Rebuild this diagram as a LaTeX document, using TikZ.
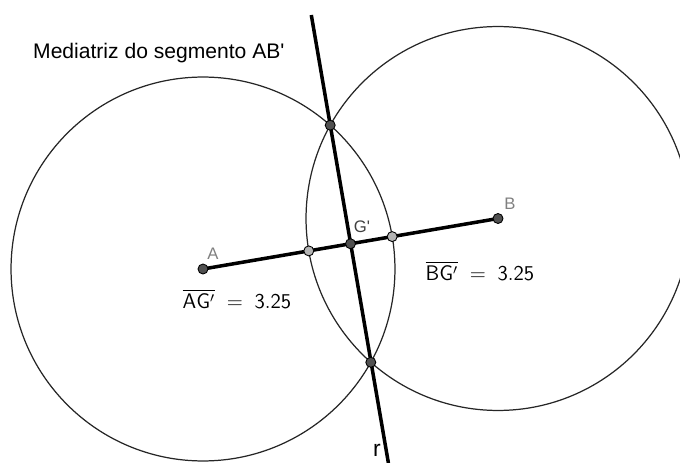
\documentclass[tikz,border=0pt]{standalone}
\usepackage{fontspec}
\usepackage{amsmath}
\usepackage{tikz}
\newfontfamily\geofont[Ligatures=TeXOff]{Liberation Sans}
\definecolor{ptdark}{HTML}{505050}
\definecolor{ptlight}{HTML}{B4B4B4}
\definecolor{lblgray}{HTML}{808080}

\begin{document}
\begin{tikzpicture}[x=0.02cm, y=-0.02cm,
    circ/.style={line width=0.7pt, black!85},
    seg/.style={line width=2pt, black},
    darkpoint/.style={circle, draw=black, fill=ptdark, line width=0.5pt, inner sep=0pt, minimum size=0.2cm},
    lightpoint/.style={circle, draw=black, fill=ptlight, line width=0.5pt, inner sep=0pt, minimum size=0.2cm},
    ptlabel/.style={font=\geofont\fontsize{9.5}{11}\selectfont}]
    \clip (0, 0) rectangle (680, 463);

    \coordinate (A) at (203, 269);
    \coordinate (B) at (498, 218.5);
    \coordinate (G) at (350.5, 243.75);
    \coordinate (P1) at (330.2, 125.2);
    \coordinate (P2) at (370.8, 362.3);
    \coordinate (C1) at (308.8, 250.9);
    \coordinate (C2) at (392.2, 236.6);
    \coordinate (rtop) at (311.3, 15);
    \coordinate (rbot) at (388.4, 463);

    \draw[circ] (A) circle (3.84cm);
    \draw[circ] (B) circle (3.84cm);

    \draw[seg] (A) -- (B);
    \draw[seg] (rtop) -- (rbot);

    \node[darkpoint] (Apt) at (A) {};
    \node[darkpoint] (Bpt) at (B) {};
    \node[darkpoint] (Gpt) at (G) {};
    \node[darkpoint] (P1pt) at (P1) {};
    \node[darkpoint] (P2pt) at (P2) {};
    \node[lightpoint] (C1pt) at (C1) {};
    \node[lightpoint] (C2pt) at (C2) {};

    \node[ptlabel, text=lblgray] at (213, 254) (Alab) {A};
    \node[ptlabel, text=lblgray] at (510, 204) (Blab) {B};
    \node[ptlabel, text=black!75] at (362, 227) (Glab) {G'};
    \node[font=\geofont\fontsize{13}{15}\selectfont] at (377, 450) (rlab) {r};

    \node[font=\geofont\fontsize{12}{14}\selectfont, anchor=base west] at (27, 58) (title) {Mediatriz do segmento AB'};
    \node[font=\fontsize{12}{14}\selectfont] at (237, 299) (AGlab) {$\overline{\mathsf{AG'}}\;=\;\mathsf{3.25}$};
    \node[font=\fontsize{12}{14}\selectfont] at (480, 271) (BGlab) {$\overline{\mathsf{BG'}}\;=\;\mathsf{3.25}$};
\end{tikzpicture}
\end{document}
